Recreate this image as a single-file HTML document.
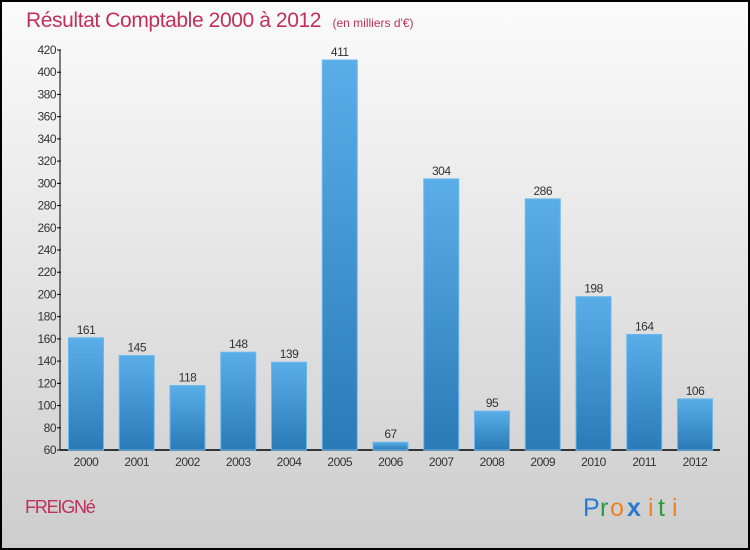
<!DOCTYPE html>
<html><head><meta charset="utf-8"><style>
html,body{margin:0;padding:0;width:750px;height:550px;overflow:hidden}
svg{display:block;font-family:"Liberation Sans",sans-serif}
</style></head><body>
<svg id="c" width="750" height="550">
<defs>
<linearGradient id="bg" x1="0" y1="0" x2="0" y2="1"><stop offset="0" stop-color="#fbfbfb"/><stop offset="1" stop-color="#cdcdcd"/></linearGradient>
<linearGradient id="bar" x1="0" y1="0" x2="0" y2="1"><stop offset="0" stop-color="#5aaee8"/><stop offset="1" stop-color="#2a7ab8"/></linearGradient>
</defs>
<rect x="1" y="1" width="748" height="548" fill="url(#bg)" stroke="#000" stroke-width="2"/>
<text x="26" y="27" font-size="21" fill="#c0305a" letter-spacing="-0.4">Résultat Comptable 2000 à 2012 <tspan font-size="12" dx="6" letter-spacing="0">(en milliers d'€)</tspan></text>
<g id="axes"></g>
<g id="bars"></g>
<text x="25" y="513" font-size="18" fill="#c0305a" letter-spacing="-1.2">FREIGNé</text>
<g font-size="25">
<text x="583" y="516" fill="#2a7ad0">P</text><text x="600" y="516" fill="#2a9a3a">r</text><text x="610" y="516" fill="#f08020">o</text><text x="627" y="516" fill="#2a7ad0" font-weight="bold">x</text><text x="648" y="516" fill="#f08020">i</text><text x="658" y="516" fill="#2a9a3a">t</text><text x="672" y="516" fill="#f08020">i</text>
</g>
</svg>
<script>
const categories=["2000","2001","2002","2003","2004","2005","2006","2007","2008","2009","2010","2011","2012"];
const values=[161,145,118,148,139,411,67,304,95,286,198,164,106];
const yTicks=[60,80,100,120,140,160,180,200,220,240,260,280,300,320,340,360,380,400,420];
const NS="http://www.w3.org/2000/svg";
const y0=450,y1=50,vmin=60,vmax=420;
const yS=v=>y0-(v-vmin)/(vmax-vmin)*(y0-y1);
const xC=i=>86+i*50.75;
function mk(t,a,p){const e=document.createElementNS(NS,t);for(const k in a)e.setAttribute(k,a[k]);p.appendChild(e);return e;}
const ax=document.getElementById('axes'),bg=document.getElementById('bars');
const yl=mk('line',{x1:60,y1:y1,x2:60,y2:y0,stroke:'#000'},ax);


const xl=mk('line',{x1:60,y1:y0,x2:720,y2:y0,stroke:'#000','stroke-width':1.5},ax);


yTicks.forEach(v=>{
 mk('line',{x1:57,x2:61,y1:yS(v),y2:yS(v),stroke:'#000'},ax);
 const t=mk('text',{x:56,y:yS(v)+4,'text-anchor':'end','font-size':12,fill:'#333','letter-spacing':'-0.5'},ax);
 t.textContent=v;
 
 
});
categories.forEach((c,i)=>{
 const v=values[i],x=xC(i);
 const r=mk('rect',{x:x-17.5,y:yS(v),width:35,height:y0-yS(v),fill:'url(#bar)',stroke:'#6bb8ee','stroke-width':1},bg);
 
 
 const l=mk('text',{x:x,y:yS(v)-4,'text-anchor':'middle','font-size':12,fill:'#333','letter-spacing':'-0.5'},bg);
 l.textContent=v;
 
 
 const t=mk('text',{x:x,y:466,'text-anchor':'middle','font-size':12,fill:'#333','letter-spacing':'-0.5'},bg);
 t.textContent=c;
 
 
});
</script>
</body></html>
